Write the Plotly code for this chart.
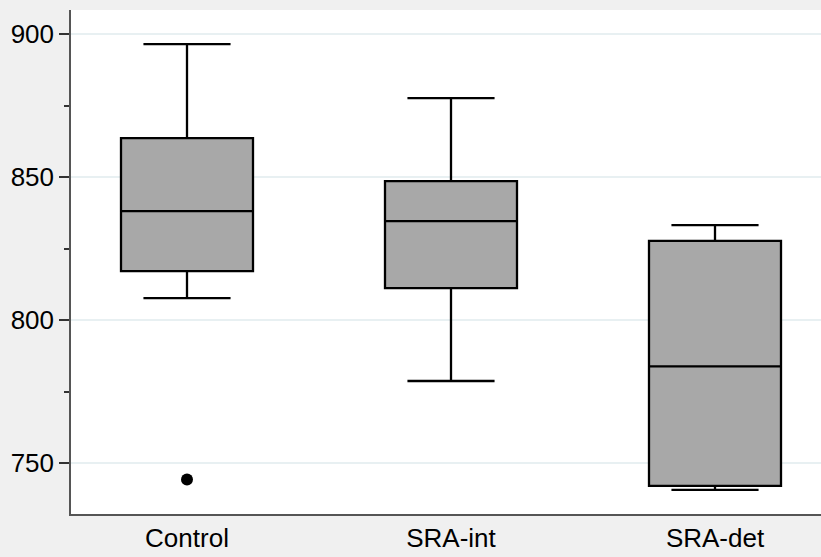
import plotly.graph_objects as go

categories = ["Control", "SRA-int", "SRA-det"]
q1 = [817.1, 811.2, 742.0]
median = [838.1, 834.6, 783.8]
q3 = [863.6, 848.6, 827.7]
lower_whisker = [807.7, 778.7, 740.6]
upper_whisker = [896.5, 877.6, 833.2]
outlier_cat = ["Control"]
outlier_val = [744.3]

y_ticks = [750, 800, 850, 900]

fig = go.Figure()
fig.add_trace(go.Box(
    x=categories, q1=q1, median=median, q3=q3,
    lowerfence=lower_whisker, upperfence=upper_whisker,
    fillcolor="#a8a8a8", line=dict(color="black", width=2.3),
    width=0.5, whiskerwidth=0.66, boxpoints=False, hoverinfo="skip",
))
fig.add_trace(go.Scatter(
    x=outlier_cat, y=outlier_val, mode="markers",
    marker=dict(color="black", size=12), hoverinfo="skip",
))

fig.update_layout(
    width=821, height=557,
    margin=dict(l=71, r=0, t=10, b=43),
    paper_bgcolor="#f0f0f0", plot_bgcolor="white",
    showlegend=False,
    font=dict(family="Liberation Sans, Arial, sans-serif", size=26, color="black"),
)
fig.update_xaxes(
    type="category", categoryorder="array", categoryarray=categories,
    range=[-0.4394, 2.4015],
    showline=True, linecolor="#555555", linewidth=1.5,
    showgrid=False, ticks="", zeroline=False,
    ticklabelstandoff=0,
)
fig.update_yaxes(
    range=[732.2, 908.4], tickvals=y_ticks,
    showline=True, linecolor="#555555", linewidth=1.5,
    ticks="outside", ticklen=10, tickwidth=1.5, tickcolor="#333333",
    showgrid=True, gridcolor="#e8f0f2", gridwidth=1.5, zeroline=False,
    minor=dict(tickvals=[775, 825, 875], ticks="outside", ticklen=5,
               tickwidth=1.5, tickcolor="#333333", showgrid=False),
    ticklabelstandoff=0,
)

fig.write_html(
    "out.html",
    config={"displayModeBar": False},
    post_script="document.body.style.margin='0';document.body.style.background='#f0f0f0';",
)
